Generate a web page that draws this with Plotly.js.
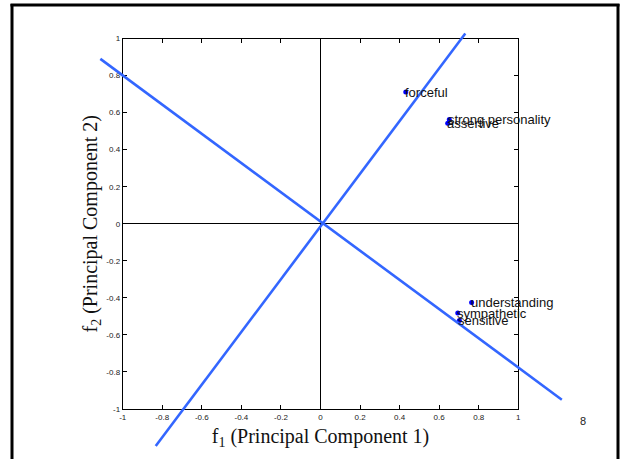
<!DOCTYPE html>
<html>
<head>
<meta charset="utf-8">
<script src="https://cdn.plot.ly/plotly-3.0.1.min.js"></script>
<style>html,body{margin:0;padding:0;background:#fff;}#chart{width:621px;height:459px;}</style>
</head>
<body>
<div id="chart"></div>
<script>
// ---- data ----
const wordLabels = ["forceful", "strong personality", "assertive", "understanding", "sympathetic", "sensitive"];
const f1Values = [0.431, 0.651, 0.643, 0.764, 0.694, 0.702];
const f2Values = [0.711, 0.563, 0.543, -0.425, -0.482, -0.522];
const axisLine1X = [-0.833, 0.732];
const axisLine1Y = [-1.2, 1.027];
const axisLine2X = [-1.113, 1.22];
const axisLine2Y = [0.89, -0.95];
const tickValues = [-1, -0.8, -0.6, -0.4, -0.2, 0, 0.2, 0.4, 0.6, 0.8, 1];
const tickLabels = ["-1", "-0.8", "-0.6", "-0.4", "-0.2", "0", "0.2", "0.4", "0.6", "0.8", "1"];
const pageNumber = "8";

// ---- geometry ----
const W = 621, H = 459;
const L = 122.7, R = 518.3, T = 38.5, B = 409;
const sx = (R - L) / 2, sy = (B - T) / 2;
const x2range = [-1 - L / sx, 1 + (W - R) / sx];
const y2range = [-1 - (H - B) / sy, 1 + T / sy];

const lineStyle = {color: "#3366ff", width: 2.6};
const traces = [
  {x: axisLine1X, y: axisLine1Y, xaxis: "x2", yaxis: "y2", mode: "lines", line: lineStyle, hoverinfo: "skip"},
  {x: axisLine2X, y: axisLine2Y, xaxis: "x2", yaxis: "y2", mode: "lines", line: lineStyle, hoverinfo: "skip"},
  {x: f1Values, y: f2Values, xaxis: "x", yaxis: "y", mode: "markers", marker: {color: "#0000ff", size: 5}, cliponaxis: false}
];

const labelAnnotations = wordLabels.map((t, i) => ({
  x: f1Values[i], y: f2Values[i], xref: "x", yref: "y", text: t, showarrow: false,
  xanchor: "left", yanchor: "middle", xshift: -3,
  font: {family: "Liberation Sans, Arial", size: 13, color: "#111"}
}));

const tickFont = {family: "Liberation Sans, Arial", size: 8, color: "#222"};
const axisCommon = {
  range: [-1, 1], showline: true, linecolor: "#000", linewidth: 1, mirror: "ticks",
  ticks: "inside", ticklen: 4, tickcolor: "#000", tickwidth: 1,
  tickvals: tickValues, ticktext: tickLabels, tickfont: tickFont,
  showgrid: false, zeroline: true, zerolinecolor: "#000", zerolinewidth: 1, fixedrange: true
};

const layout = {
  width: W, height: H, margin: {l: 0, r: 0, t: 0, b: 0},
  paper_bgcolor: "#fff", plot_bgcolor: "rgba(0,0,0,0)", showlegend: false,
  xaxis: Object.assign({}, axisCommon, {
    domain: [L / W, R / W], anchor: "y",
    title: {text: "f<sub>1</sub> (Principal Component 1)", font: {family: "Liberation Serif, Times New Roman", size: 20, color: "#111"}, standoff: 8}
  }),
  yaxis: Object.assign({}, axisCommon, {
    domain: [(H - B) / H, (H - T) / H], anchor: "x",
    title: {text: "f<sub>2</sub> (Principal Component 2)", font: {family: "Liberation Serif, Times New Roman", size: 20, color: "#111"}, standoff: 3}
  }),
  xaxis2: {domain: [0, 1], range: x2range, anchor: "y2", visible: false, fixedrange: true},
  yaxis2: {domain: [0, 1], range: y2range, anchor: "x2", visible: false, fixedrange: true},
  annotations: labelAnnotations.concat([
    {xref: "paper", yref: "paper", x: 583 / W, y: 1 - 421 / H, text: pageNumber, showarrow: false,
     xanchor: "center", yanchor: "middle", font: {family: "Liberation Sans, Arial", size: 11, color: "#222"}}
  ]),
  shapes: [
    {type: "line", xref: "paper", yref: "paper", x0: 12 / W, x1: 12 / W, y0: 0, y1: 1 - 4 / H, line: {color: "#000", width: 3}},
    {type: "line", xref: "paper", yref: "paper", x0: 10.5 / W, x1: 619.5 / W, y0: 1 - 5 / H, y1: 1 - 5 / H, line: {color: "#000", width: 3}},
    {type: "line", xref: "paper", yref: "paper", x0: 618 / W, x1: 618 / W, y0: 0, y1: 1 - 4 / H, line: {color: "#000", width: 3}}
  ]
};

Plotly.newPlot("chart", traces, layout, {staticPlot: true, displayModeBar: false});
</script>
</body>
</html>
